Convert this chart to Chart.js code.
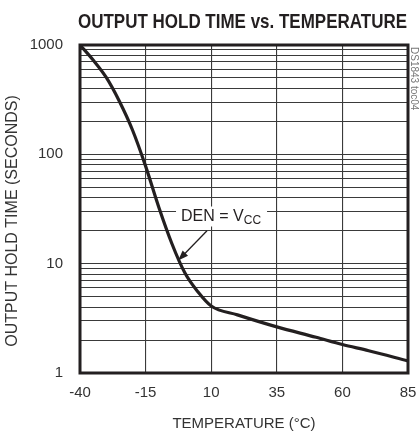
<!DOCTYPE html>
<html>
<head>
<meta charset="utf-8">
<script src="https://cdn.jsdelivr.net/npm/chart.js@4"></script>
<style>
  html, body { margin: 0; padding: 0; background: #fff; }
  #wrap { width: 419px; height: 437px; }
</style>
</head>
<body>
<div id="wrap"><canvas id="holdChart"></canvas></div>
<script>
// values
const temperatures = [-40, -35, -30, -25, -20, -15, -10, -5, 0, 5, 10, 20, 35, 50, 60, 70, 85];
const holdTimes = [1000, 728, 505, 306, 167, 78, 33, 15.3, 8.2, 5.5, 4.1, 3.4, 2.64, 2.12, 1.82, 1.6, 1.29];
const xTicks = [-40, -15, 10, 35, 60, 85];
const yTicks = [1, 10, 100, 1000];

const face = '"Liberation Sans", Arial, sans-serif';
const ink = '#231f20';

// label + arrow, placed in data coordinates
const note = { x: -1.5, y: 27, arrowFrom: [8.4, 20], arrowTo: [-2.6, 10.7] };

const extras = {
  id: 'extras',
  afterDraw(chart) {
    const { ctx, chartArea: a, scales } = chart;
    const xs = scales.x, ys = scales.y;
    ctx.save();

    // frame
    ctx.strokeStyle = ink;
    ctx.lineWidth = 3;
    ctx.strokeRect(a.left, a.top, a.right - a.left, a.bottom - a.top);

    // title, squeezed to the plot width like a condensed face
    const title = 'OUTPUT HOLD TIME vs. TEMPERATURE';
    ctx.fillStyle = ink;
    ctx.font = 'bold 21px ' + face;
    const tw = ctx.measureText(title).width;
    const want = a.right - a.left + 1;
    ctx.save();
    ctx.translate(a.left - 2, 28);
    ctx.scale(want / tw, 1);
    ctx.textAlign = 'left';
    ctx.textBaseline = 'alphabetic';
    ctx.fillText(title, 0, 0);
    ctx.restore();

    // y axis title
    ctx.save();
    ctx.translate(13, 221);
    ctx.rotate(-Math.PI / 2);
    ctx.font = '16px ' + face;
    ctx.fillStyle = '#333';
    ctx.textAlign = 'center';
    ctx.textBaseline = 'middle';
    ctx.fillText('OUTPUT HOLD TIME (SECONDS)', 0, 0);
    ctx.restore();

    // DEN = VCC label with white backing
    const tx = xs.getPixelForValue(note.x);
    const ty = ys.getPixelForValue(note.y);
    ctx.font = '16px ' + face;
    const main = 'DEN = V';
    const mw = ctx.measureText(main).width;
    ctx.font = '12px ' + face;
    const sw = ctx.measureText('CC').width;
    ctx.fillStyle = '#fff';
    ctx.fillRect(tx - 5, ty - 10, mw + sw + 11, 20);
    ctx.fillStyle = ink;
    ctx.textAlign = 'left';
    ctx.textBaseline = 'middle';
    ctx.font = '16px ' + face;
    ctx.fillText(main, tx, ty);
    ctx.font = '12px ' + face;
    ctx.fillText('CC', tx + mw, ty + 4);

    // arrow
    const x1 = xs.getPixelForValue(note.arrowFrom[0]), y1 = ys.getPixelForValue(note.arrowFrom[1]);
    const x2 = xs.getPixelForValue(note.arrowTo[0]), y2 = ys.getPixelForValue(note.arrowTo[1]);
    const ang = Math.atan2(y2 - y1, x2 - x1);
    ctx.strokeStyle = ink;
    ctx.lineWidth = 1.3;
    ctx.beginPath();
    ctx.moveTo(x1, y1);
    ctx.lineTo(x2 - 8 * Math.cos(ang), y2 - 8 * Math.sin(ang));
    ctx.stroke();
    ctx.beginPath();
    ctx.moveTo(x2, y2);
    ctx.lineTo(x2 - 11 * Math.cos(ang - 0.35), y2 - 11 * Math.sin(ang - 0.35));
    ctx.lineTo(x2 - 11 * Math.cos(ang + 0.35), y2 - 11 * Math.sin(ang + 0.35));
    ctx.closePath();
    ctx.fill();

    // small figure id at right edge
    ctx.translate(a.right + 6, a.top + 2);
    ctx.rotate(Math.PI / 2);
    ctx.font = '10px ' + face;
    ctx.fillStyle = '#777';
    ctx.textAlign = 'left';
    ctx.textBaseline = 'middle';
    ctx.fillText('DS1843 toc04', 0, 0);
    ctx.restore();
  }
};

new Chart(document.getElementById('holdChart'), {
  type: 'line',
  data: {
    datasets: [{
      data: temperatures.map((t, i) => ({ x: t, y: holdTimes[i] })),
      borderColor: ink,
      borderWidth: 3.2,
      pointRadius: 0,
      cubicInterpolationMode: 'monotone',
      fill: false
    }]
  },
  options: {
    responsive: true,
    maintainAspectRatio: false,
    animation: false,
    layout: { padding: { top: 45, right: 11, left: 0, bottom: 0 } },
    plugins: { legend: { display: false }, tooltip: { enabled: false } },
    scales: {
      x: {
        type: 'linear',
        min: -40,
        max: 85,
        afterBuildTicks(s) { s.ticks = xTicks.map(v => ({ value: v })); },
        afterFit(s) { s.height = 64; s.paddingLeft = 0; s.paddingRight = 0; },
        grid: { color: '#3a3a3a', lineWidth: 1.1, drawTicks: false },
        border: { display: false },
        ticks: { color: '#333', font: { family: face, size: 15 }, padding: 11 },
        title: {
          display: true,
          text: 'TEMPERATURE (°C)',
          color: '#333',
          font: { family: face, size: 15 },
          padding: { top: 6 }
        }
      },
      y: {
        type: 'logarithmic',
        min: 1,
        max: 1000,
        afterBuildTicks(s) {
          const t = [];
          for (let d = 0; d < yTicks.length - 1; d++) {
            for (let m = 1; m < 10; m++) t.push({ value: yTicks[d] * m });
          }
          t.push({ value: yTicks[yTicks.length - 1] });
          s.ticks = t;
        },
        afterFit(s) { s.width = 80; s.paddingTop = 0; s.paddingBottom = 0; },
        grid: { color: '#3a3a3a', lineWidth: 1.1, drawTicks: false },
        border: { display: false },
        ticks: {
          color: '#333',
          font: { family: face, size: 15 },
          padding: 17,
          autoSkip: false,
          callback: v => (yTicks.includes(v) ? String(v) : '')
        },
        title: { display: false }
      }
    }
  },
  plugins: [extras]
});
</script>
</body>
</html>
